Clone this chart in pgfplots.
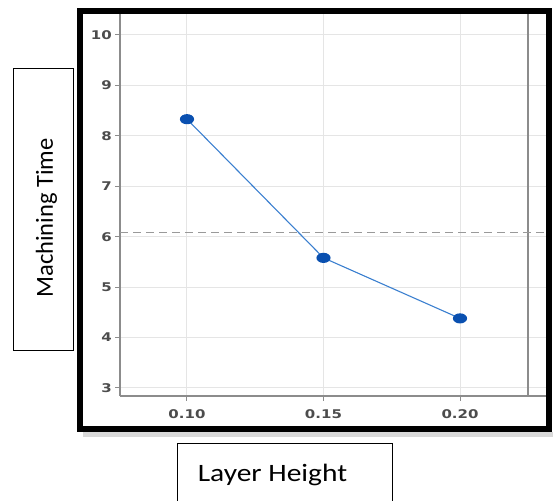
\documentclass[border=0pt]{standalone}
\usepackage{fontspec}
\setmainfont{Carlito}
\newfontfamily\tickfont{DejaVu Sans}
\usepackage{pgfplots}
\pgfplotsset{compat=1.18}
\definecolor{linecol}{HTML}{3A7FCF}
\definecolor{markcol}{HTML}{0A50B0}
\begin{document}
\begin{tikzpicture}[x=1pt,y=1pt]
\useasboundingbox (0pt,0pt) rectangle (555pt,501pt);
\begin{axis}[
  at={(120pt,105pt)}, anchor=south west,
  scale only axis, width=426pt, height=382pt,
  xmin=0.07546, xmax=0.2315, ymin=2.841, ymax=10.416,
  axis lines*=left,
  axis line style={draw=black!45, line width=1.3pt},
  xtick={0.10,0.15,0.20},
  xticklabels={0.10,0.15,0.20},
  ytick={3,4,5,6,7,8,9,10},
  /pgf/number format/assume math mode=true,
  tick align=outside,
  major tick length=5pt,
  tick style={black!45, line width=1pt},
  grid=major,
  major grid style={black!10, line width=1pt},
  tick label style={font=\tickfont\fontsize{12}{14}\selectfont\bfseries, text=black!70, xscale=1.25},
  xticklabel style={yshift=-5pt},
  yticklabel style={xshift=1pt},
  clip=false,
]
\addplot[black!45, line width=1.5pt, forget plot] coordinates {(0.2249,2.841) (0.2249,10.416)};
\addplot[black!40, line width=1pt, dash pattern=on 8pt off 5pt, forget plot] coordinates {(0.07546,6.09) (0.2315,6.09)};
\addplot[linecol, line width=1.1pt, mark=*, mark size=4.5pt,
  mark options={fill=markcol, draw=markcol, xscale=1.45}] coordinates {
  (0.10,8.33) (0.15,5.58) (0.20,4.38)
};
\end{axis}
% frame shadow
\fill[black!15] (83pt,64pt) rectangle (553pt,69pt);
% thick frame
\draw[line width=6pt] (80pt,72pt) rectangle (549pt,490pt);
% y label box
\draw[line width=0.8pt] (13pt,151pt) rectangle (73pt,433pt);
\node[rotate=90, anchor=base, inner sep=0pt, font=\fontsize{24.5}{28}\selectfont] at (53pt,283pt) {Machining Time};
% x label box
\draw[line width=0.8pt] (177pt,-2pt) -- (177pt,58pt) -- (392pt,58pt) -- (392pt,-2pt);
\node[anchor=base, inner sep=0pt, xscale=1.18, font=\fontsize{25}{28}\selectfont] at (272.5pt,19pt) {Layer Height};
\end{tikzpicture}
\end{document}
